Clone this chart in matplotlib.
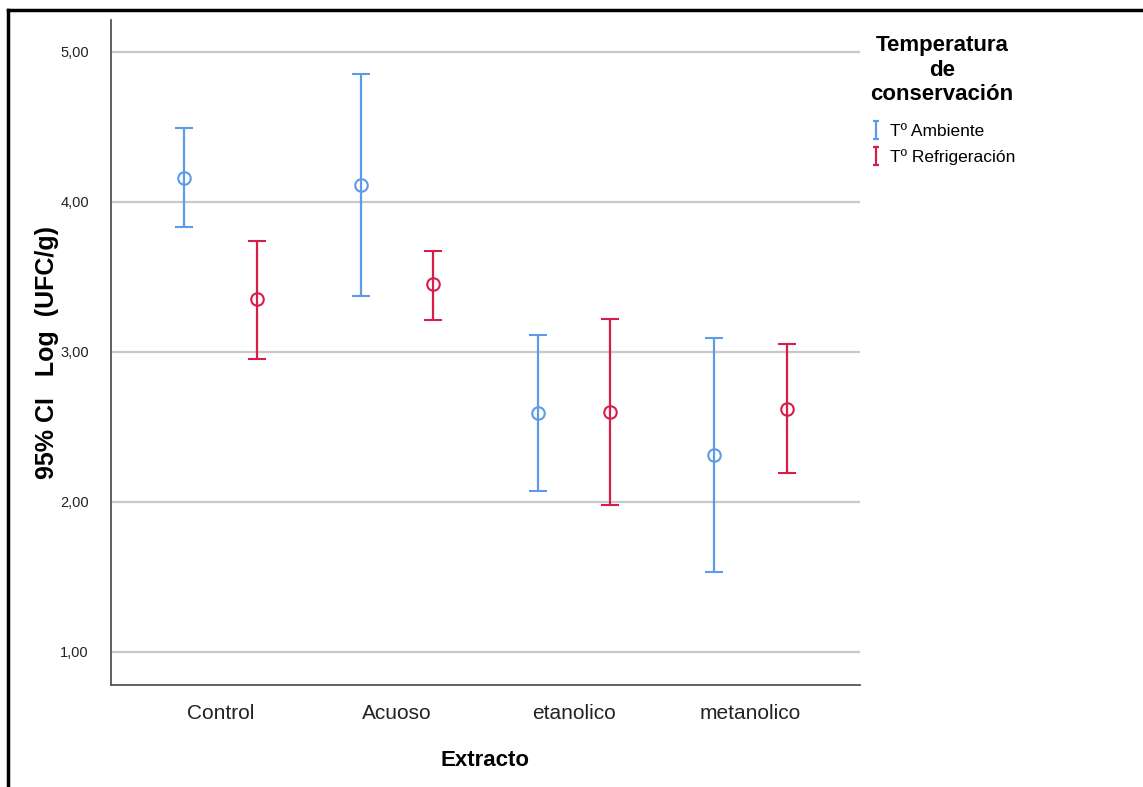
import matplotlib
matplotlib.use("Agg")
import matplotlib.pyplot as plt
import numpy as np
from matplotlib.lines import Line2D
from matplotlib.path import Path

plt.rcParams["font.family"] = ["Liberation Sans", "DejaVu Sans"]

extractos = ["Control", "Acuoso", "etanolico", "metanolico"]
series = ["Tº Ambiente", "Tº Refrigeración"]

# means and 95% CI bounds
amb_mean = [4.16, 4.11, 2.59, 2.31]
amb_low = [3.83, 3.37, 2.07, 1.53]
amb_high = [4.49, 4.85, 3.11, 3.09]

ref_mean = [3.35, 3.45, 2.60, 2.62]
ref_low = [2.95, 3.21, 1.98, 2.19]
ref_high = [3.74, 3.67, 3.22, 3.05]

yticks = [1.0, 2.0, 3.0, 4.0, 5.0]
ytick_labels = ["1,00", "2,00", "3,00", "4,00", "5,00"]

colors = ["#5E9BE6", "#D81E48"]

fig = plt.figure(figsize=(11.43, 7.87), dpi=100)
ax = fig.add_axes([0.0971, 0.1296, 0.6553, 0.845])

x = np.arange(len(extractos))
offset = 0.204
groups = [(amb_mean, amb_low, amb_high), (ref_mean, ref_low, ref_high)]
for i, (m, lo, hi) in enumerate(groups):
    m = np.array(m)
    err = np.vstack([m - np.array(lo), np.array(hi) - m])
    xs = x + (i * 2 - 1) * offset
    ax.errorbar(xs, m, yerr=err, fmt="o", color=colors[i], mfc="none",
                mec=colors[i], ms=9, mew=1.5, elinewidth=1.6, capsize=6.5,
                capthick=1.6, zorder=3)

ax.set_xlim(-0.62, 3.62)
ax.set_ylim(0.78, 5.21)
ax.set_yticks(yticks)
ax.set_yticklabels(ytick_labels, fontsize=10.5, color="#222222")
ax.set_xticks(x)
ax.set_xticklabels(extractos, fontsize=15, color="#222222")
ax.tick_params(axis="x", length=0, pad=14)
ax.tick_params(axis="y", length=0, pad=16)
ax.yaxis.grid(True, color="#c8c8c8", lw=1.6)
ax.set_axisbelow(True)
for s in ["top", "right"]:
    ax.spines[s].set_visible(False)
for s in ["left", "bottom"]:
    ax.spines[s].set_color("#555555")
    ax.spines[s].set_linewidth(1.3)

ax.set_xlabel("Extracto", fontsize=16, fontweight="bold", labelpad=19)
ax.set_ylabel("95% CI   Log  (UFC/g)", fontsize=18, fontweight="bold")
ax.yaxis.set_label_coords(-0.069, 0.5)

# I-beam legend marker
ibeam = Path([(-0.35, 1), (0.35, 1), (0, 1), (0, -1), (-0.35, -1), (0.35, -1)],
             [Path.MOVETO, Path.LINETO, Path.MOVETO, Path.LINETO, Path.MOVETO, Path.LINETO])
handles = [Line2D([], [], ls="none", marker=ibeam, ms=13, mfc="none",
                  mec=c, mew=1.6) for c in colors]
leg = fig.legend(handles, series, loc="upper left", bbox_to_anchor=(0.748, 0.975),
                 frameon=False, fontsize=12.5, title="Temperatura\nde\nconservación",
                 title_fontproperties={"weight": "bold", "size": 16},
                 alignment="left", handlelength=0.6, handletextpad=0.5,
                 labelspacing=0.55)
leg.get_title().set_multialignment("center")
leg.get_title().set_linespacing(1.2)
leg._legend_box.sep = 14

# frame lines of the original screenshot
fig.add_artist(Line2D([0.007, 1.0], [0.987, 0.987], color="black", lw=2.5,
                      transform=fig.transFigure))
fig.add_artist(Line2D([0.007, 0.007], [0.0, 0.987], color="black", lw=2.5,
                      transform=fig.transFigure))

fig.savefig("out.png", dpi=100)
